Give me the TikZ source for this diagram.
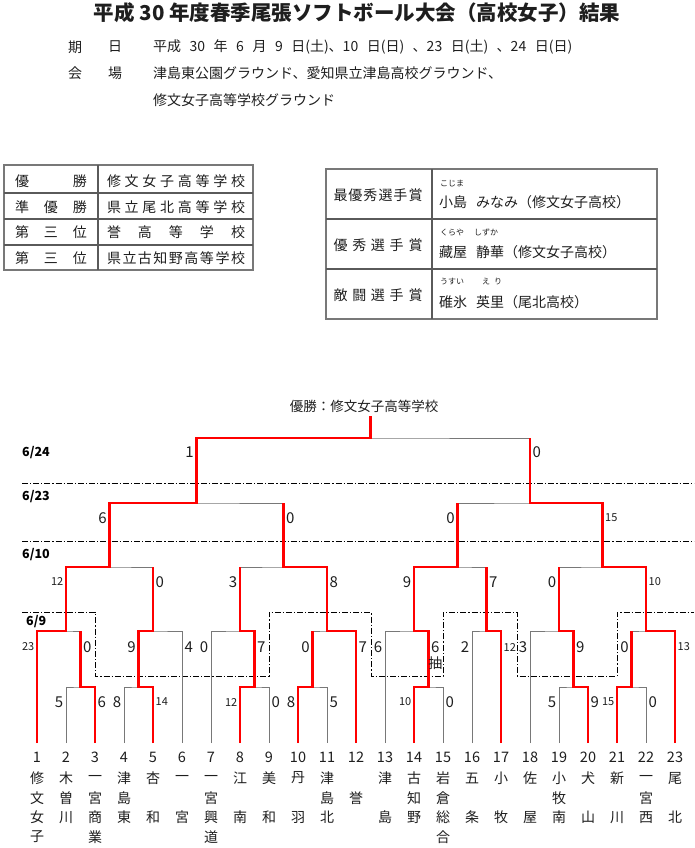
\documentclass[tikz,border=0pt]{standalone}
\usepackage{fontspec}
\setmainfont{Noto Sans CJK JP}
\usetikzlibrary{positioning}

\definecolor{winred}{RGB}{255,0,0}
\definecolor{bgray}{RGB}{120,120,120}
\definecolor{tgray}{RGB}{90,90,90}
\definecolor{inkc}{RGB}{30,30,30}

% spread the characters of #2 over a box #1 wide
\def\spreadaux#1{\ifx\relax#1\else\hfill#1\expandafter\spreadaux\fi}
\def\spreadfirst#1{#1\spreadaux}
\newcommand\spreadbox[2]{\makebox[#1][s]{\expandafter\spreadfirst#2\relax}}
\newcommand\fsz[1]{\fontsize{#1}{#1}\selectfont}
\newcommand\smallsc{\fsz{11}}

\begin{document}
\begin{tikzpicture}[x=1pt,y=-1pt,
tx/.style={inner sep=0pt, text=inkc, font=\fsz{14}},
ruby/.style={inner sep=0pt, anchor=west, text=inkc, font=\fsz{8}},
datelbl/.style={inner sep=0pt, anchor=west, text=black, font=\fsz{12.5}\bfseries},
num/.style={inner sep=0pt, text=inkc, font=\fsz{14.5}},
nm/.style={inner sep=0pt, text=inkc, font=\fsz{14}},
sc/.style={inner sep=2.5pt, text=inkc, font=\fsz{15}},
scl/.style={sc, anchor=east},
scr/.style={sc, anchor=west},
lose/.style={draw=bgray, line width=1pt},
win/.style={draw=winred, line width=2.6pt},
dateline/.style={line width=0.8pt, dash pattern=on 6pt off 2pt on 1.2pt off 2pt},
tbline/.style={draw=tgray, line width=1.3pt},
]
\useasboundingbox (0,0) rectangle (694,848);

%Heading
\node[tx, font=\fsz{20.5}\bfseries] (title) at (357,13) {平成 30 年度春季尾張ソフトボール大会（高校女子）結果};
\node[tx] (k1) at (75,47) {期};
\node[tx] (k2) at (115,47) {日};
\node[tx, anchor=west] (days) at (153,47) {\spaceskip=8.5pt\relax 平成 30 年 6 月 9 日(土)、10 日(日) 、23 日(土) 、24 日(日)};
\node[tx] (k3) at (75,73) {会};
\node[tx] (k4) at (115,73) {場};
\node[tx, anchor=west] (place1) at (153,73) {津島東公園グラウンド、愛知県立津島高校グラウンド、};
\node[tx, anchor=west] (place2) at (153,100) {修文女子高等学校グラウンド};

%Placings
\draw[tbline, line width=1.8pt, draw=bgray] (4,165) rectangle (253,270);
\foreach \y in {193,219,245} \draw[tbline] (4,\y) -- (253,\y);
\draw[tbline] (98,165) -- (98,270);
\foreach \k/\y/\ca/\cb in {1/181/優勝/修文女子高等学校, 2/207/準優勝/県立尾北高等学校,
  3/232.5/第三位/誉高等学校, 4/258/第三位/県立古知野高等学校}{
  \node[tx] (pl\k) at (51,\y) {\spreadbox{72pt}{\ca}};
  \node[tx] (sch\k) at (176,\y) {\spreadbox{138pt}{\cb}};
}

%Awards
\draw[tbline, line width=1.8pt, draw=bgray] (326,169) rectangle (657,319);
\foreach \y in {219,269} \draw[tbline] (326,\y) -- (657,\y);
\draw[tbline] (432,169) -- (432,319);
\node[tx] (aw1) at (378,195) {\spreadbox{89pt}{最優秀選手賞}};
\node[tx] (aw2) at (378,245.5) {\spreadbox{89pt}{優秀選手賞}};
\node[tx] (aw3) at (378,295) {\spreadbox{89pt}{敵闘選手賞}};
\node[ruby] (rb1) at (440,184) {こじま};
\node[tx, anchor=west] (pn1) at (439,202) {小島\hspace{9pt}みなみ（修文女子高校）};
\node[ruby] (rb2a) at (440,232.5) {くらや};
\node[ruby] (rb2b) at (474,232.5) {しずか};
\node[tx, anchor=west] (pn2) at (439,252) {藏屋\hspace{9pt}静華（修文女子高校）};
\node[ruby] (rb3a) at (440,282) {うすい};
\node[ruby] (rb3b) at (482,282) {え\hspace{4pt}り};
\node[tx, anchor=west] (pn3) at (439,302) {碓氷\hspace{9pt}英里（尾北高校）};

%Dates
\draw[dateline] (22,483) -- (694,483);
\draw[dateline] (22,541) -- (694,541);
\draw[dateline] (22,612) -| (95,676) -| (269,612) -| (371,676) -| (443,612) -| (517,676) -| (617,612) -- (694,612);
\node[datelbl] (d24) at (22,453) {6/24};
\node[datelbl] (d23) at (22,497) {6/23};
\node[datelbl] (d10) at (22,555) {6/10};
\node[datelbl] (d9) at (26,622) {6/9};
\node[tx, font=\fsz{13.5}] (champ) at (364,406) {優勝：修文女子高等学校};

\begin{scope}[x=29pt, xshift=8pt]
%Nodes
\foreach \i in {1,...,23} \coordinate (t\i) at (\i,743);
\foreach \nm/\xx/\yy in {m23/2.5/687, m45/4.5/687, m89/8.5/687, m1011/10.5/687,
  m1415/14.5/687, m1920/19.5/687, m2122/21.5/687,
  ga/2/631, gb/5/631, gc/8/631, gd/11/631, ge/14/631, gf/16.5/631, gg/19/631, gh/22/631,
  q1/3.5/567, q2/9.5/567, q3/15.5/567, q4/20.5/567,
  s1/6.5/503, s2/18/503, fin/12.5/438, top/12.5/416}
  \coordinate (\nm) at (\xx,\yy);

\foreach \i/\ca/\cb/\cc/\cd in {1/修/文/女/子, 2/木/曽/川/{}, 3/一/宮/商/業, 4/津/島/東/{},
  5/杏/{}/和/{}, 6/一/{}/宮/{}, 7/一/宮/興/道, 8/江/{}/南/{}, 9/美/{}/和/{},
  10/丹/{}/羽/{}, 11/津/島/北/{}, 12/{}/誉/{}/{}, 13/津/{}/島/{}, 14/古/知/野/{},
  15/岩/倉/総/合, 16/五/{}/条/{}, 17/小/{}/牧/{}, 18/佐/{}/屋/{}, 19/小/牧/南/{},
  20/犬/{}/山/{}, 21/新/{}/川/{}, 22/一/宮/西/{}, 23/尾/{}/北/{}}{
  \node[num] (n\i) at (\i,757) {\i};
  \node[nm] (c\i-1) at (\i,778) {\ca};
  \node[nm] (c\i-2) at (\i,798) {\cb};
  \node[nm] (c\i-3) at (\i,817.5) {\cc};
  \node[nm] (c\i-4) at (\i,837) {\cd};
}

%Bracket
\foreach \ca/\mt/\cb in {t2/m23/t3, t4/m45/t5, t8/m89/t9, t10/m1011/t11, t14/m1415/t15,
  t19/m1920/t20, t21/m2122/t22, t1/ga/m23, m45/gb/t6, t7/gc/m89, m1011/gd/t12,
  t13/ge/m1415, t16/gf/t17, t18/gg/m1920, m2122/gh/t23,
  ga/q1/gb, gc/q2/gd, ge/q3/gf, gg/q4/gh, q1/s1/q2, q3/s2/q4, s1/fin/s2}
  \draw[lose] (\ca) |- (\mt) -| (\cb);
\draw[lose] (fin) -- (top);

\draw[win] (t1) |- (ga) |- (q1) |- (s1) |- (fin) -- (top);
\draw[win] (t3) |- (m23) -- (m23 |- ga);
\draw[win] (t5) |- (m45) |- (gb) -- (gb |- q1);
\draw[win] (t8) |- (m89) |- (gc) -- (gc |- q2);
\draw[win] (t10) |- (m1011) -- (m1011 |- gd);
\draw[win] (t12) |- (gd) |- (q2) -- (q2 |- s1);
\draw[win] (t14) |- (m1415) |- (ge) |- (q3) -- (q3 |- s2);
\draw[win] (t17) |- (gf) -- (gf |- q3);
\draw[win] (t20) |- (m1920) |- (gg) -- (gg |- q4);
\draw[win] (t21) |- (m2122) -- (m2122 |- gh);
\draw[win] (t23) |- (gh) |- (q4) |- (s2) -- (s2 |- fin);

%Scores
\foreach \mt/\xl/\xr/\yy/\lsc/\rsc in {m23/2/3/702/5/6, m45/4/5/702/8/14, m89/8/9/702/12/0,
  m1011/10/11/702/8/5, m1415/14/15/702/10/0, m1920/19/20/702/5/9, m2122/21/22/702/15/0,
  ga/1/2.5/647/23/0, gb/4.5/6/647/9/4, gc/7/8.5/647/0/7, gd/10.5/12/647/0/7,
  ge/13/14.5/647/6/6, gf/16/17/647/2/12, gg/18/19.5/647/3/9, gh/21.5/23/647/0/13,
  q1/2/5/582/12/0, q2/8/11/582/3/8, q3/14/16.5/582/9/7, q4/19/22/582/0/10,
  s1/3.5/9.5/518/6/0, s2/15.5/20.5/518/0/15, fin/6.5/18/452/1/0}{
  \node[scl] (\mt-l) at (\xl,\yy) {\ifnum\lsc>9 \smallsc\fi\lsc};
  \node[scr] (\mt-r) at (\xr,\yy) {\ifnum\rsc>9 \smallsc\fi\rsc};
}
\node[tx] (lot) [below=1pt of ge-r] {抽};
\end{scope}
\end{tikzpicture}
\end{document}
